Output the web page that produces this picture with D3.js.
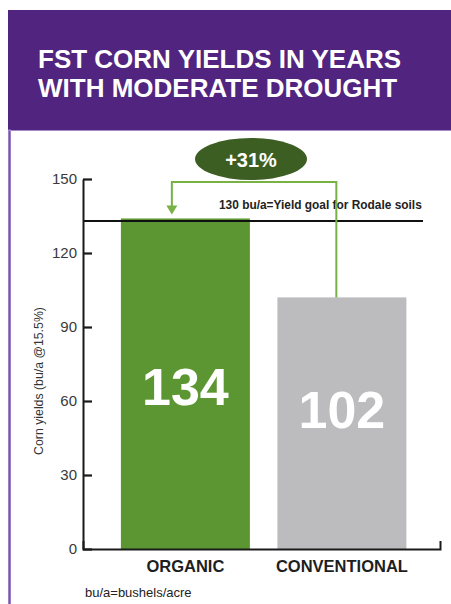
<!DOCTYPE html>
<html>
<head>
<meta charset="utf-8">
<script src="https://cdn.jsdelivr.net/npm/d3@7"></script>
<style>
  html, body { margin: 0; padding: 0; background: #fff; }
  svg { display: block; }
</style>
</head>
<body>
<script>
// ---- data ----
const categories = ["ORGANIC", "CONVENTIONAL"];
const yieldValues = [134, 102];
const valueLabels = ["134", "102"];
const yTicks = [0, 30, 60, 90, 120, 150];
const goalLineValue = 133;            // as drawn in the picture
const goalLabel = "130 bu/a=Yield goal for Rodale soils";
const increaseLabel = "+31%";
const titleLines = ["FST CORN YIELDS IN YEARS", "WITH MODERATE DROUGHT"];
const yAxisTitle = "Corn yields (bu/a @15.5%)";
const footnote = "bu/a=bushels/acre";
const barColors = ["#5b9632", "#bcbcbe"];

// ---- layout ----
const W = 451, H = 604;
const svg = d3.select("body").append("svg").attr("width", W).attr("height", H);
const font = "'Liberation Sans', Arial, Helvetica, sans-serif";

// header
svg.append("rect").attr("x", 8).attr("y", 10).attr("width", W - 8).attr("height", 120).attr("fill", "#51247f");
svg.append("line").attr("x1", 9.5).attr("x2", 9.5).attr("y1", 129).attr("y2", H)
  .attr("stroke", "#7d52b3").attr("stroke-width", 2.5);
svg.append("line").attr("x1", 8).attr("x2", W).attr("y1", 130.5).attr("y2", 130.5)
  .attr("stroke", "#a58cc6").attr("stroke-width", 1);

svg.selectAll("text.title").data(titleLines).join("text")
  .attr("class", "title")
  .attr("x", 38).attr("y", (d, i) => 68 + i * 29)
  .attr("font-family", font).attr("font-weight", "bold").attr("font-size", 26)
  .attr("fill", "#fff").text(d => d);

// scales
const y = d3.scaleLinear().domain([0, 150]).range([549, 179]);
const x = d3.scaleBand().domain(categories).range([83, 440])
  .paddingInner(0.1757).paddingOuter(0.2285).align(0.53);

// bars
svg.selectAll("rect.bar").data(categories).join("rect")
  .attr("class", "bar")
  .attr("x", d => x(d)).attr("width", x.bandwidth())
  .attr("y", (d, i) => y(yieldValues[i]))
  .attr("height", (d, i) => y(0) - y(yieldValues[i]))
  .attr("fill", (d, i) => barColors[i]);

// value labels inside bars
svg.selectAll("text.val").data(categories).join("text")
  .attr("class", "val")
  .attr("x", d => x(d) + x.bandwidth() / 2)
  .attr("y", (d, i) => i === 0 ? 405 : 428)
  .attr("text-anchor", "middle")
  .attr("font-family", font).attr("font-weight", "bold").attr("font-size", 52)
  .attr("fill", "#fff").text((d, i) => valueLabels[i]);

// goal line
svg.append("line").attr("x1", 83).attr("x2", 423)
  .attr("y1", y(goalLineValue)).attr("y2", y(goalLineValue))
  .attr("stroke", "#111").attr("stroke-width", 2);
svg.append("text").attr("x", 219).attr("y", 209)
  .attr("font-family", font).attr("font-weight", "bold").attr("font-size", 11.9)
  .attr("fill", "#222").text(goalLabel);

// arrow connector
const leftX = x(categories[0]) + x.bandwidth() * 0.395;
const rightX = x(categories[1]) + x.bandwidth() * 0.457;
const arrowY = 182;
const arrowTip = y(yieldValues[0]) - 4;
const green = "#78b145";
svg.append("path")
  .attr("d", `M${rightX},${y(yieldValues[1])}V${arrowY}H${leftX}V${arrowTip - 8}`)
  .attr("fill", "none").attr("stroke", green).attr("stroke-width", 2);
svg.append("path")
  .attr("d", `M${leftX - 5.5},${arrowTip - 9}L${leftX + 5.5},${arrowTip - 9}L${leftX},${arrowTip}Z`)
  .attr("fill", green);

// ellipse
svg.append("ellipse").attr("cx", 251).attr("cy", 159).attr("rx", 56).attr("ry", 21)
  .attr("fill", "#3d5e22");
svg.append("text").attr("x", 251).attr("y", 166.5).attr("text-anchor", "middle")
  .attr("font-family", font).attr("font-weight", "bold").attr("font-size", 20)
  .attr("fill", "#fff").text(increaseLabel);

// y axis
const yAxis = d3.axisLeft(y).tickValues(yTicks).tickSize(-9).tickSizeOuter(0).tickPadding(6);
const gy = svg.append("g").attr("transform", "translate(83,0)").call(yAxis);
gy.select(".domain").attr("stroke", "#1a1a1a").attr("stroke-width", 2);
gy.selectAll(".tick line").attr("stroke", "#1a1a1a").attr("stroke-width", 2.2);
gy.selectAll(".tick text").attr("font-family", font).attr("font-size", 15).attr("fill", "#3a3a3a");

// x axis
const xAxis = d3.axisBottom(x).tickSize(0).tickSizeOuter(-8).tickFormat("");
const gx = svg.append("g").attr("transform", `translate(0,${y(0)})`).call(xAxis);
gx.select(".domain").attr("stroke", "#1a1a1a").attr("stroke-width", 2);

svg.selectAll("text.cat").data(categories).join("text")
  .attr("class", "cat")
  .attr("x", d => x(d) + x.bandwidth() / 2).attr("y", 572)
  .attr("text-anchor", "middle")
  .attr("font-family", font).attr("font-weight", "bold").attr("font-size", 16.5)
  .attr("fill", "#1e1e1e").text(d => d);

// y axis title
svg.append("text").attr("transform", "translate(43,381) rotate(-90)")
  .attr("text-anchor", "middle")
  .attr("font-family", font).attr("font-size", 12.3).attr("fill", "#333")
  .text(yAxisTitle);

// footnote
svg.append("text").attr("x", 85).attr("y", 597)
  .attr("font-family", font).attr("font-size", 13).attr("fill", "#222")
  .text(footnote);
</script>
</body>
</html>
